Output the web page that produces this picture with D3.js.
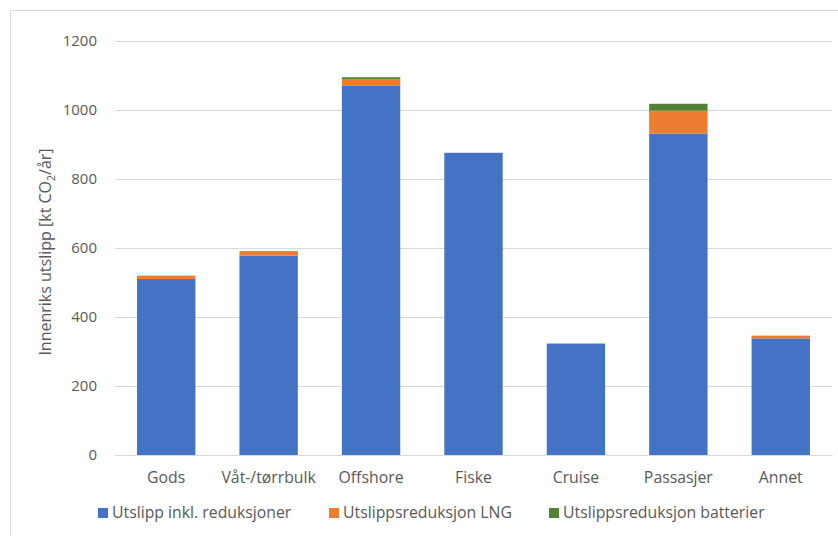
<!DOCTYPE html>
<html>
<head>
<meta charset="utf-8">
<script src="https://cdn.jsdelivr.net/npm/d3@7"></script>
<style>
  html, body { margin: 0; padding: 0; background: #fff; }
  svg { display: block; }
  text { font-family: "Open Sans", "Noto Sans", sans-serif; fill: #595959; }
</style>
</head>
<body>
<svg id="chart" width="838" height="536"></svg>
<script>
// Domestic shipping emissions per segment, kt CO2 per year
const categories = ["Gods", "Våt-/tørrbulk", "Offshore", "Fiske", "Cruise", "Passasjer", "Annet"];
const utslipp    = [510, 578, 1070, 876, 323, 932, 338];
const lngRed     = [10, 13, 20, 0, 0, 66, 8];
const batteriRed = [0, 0, 5, 0, 0, 20, 0];
const seriesNames = ["Utslipp inkl. reduksjoner", "Utslippsreduksjon LNG", "Utslippsreduksjon batterier"];
const seriesColors = ["#4472C4", "#ED7D31", "#548235"];
const yTicks = [0, 200, 400, 600, 800, 1000, 1200];

const rows = categories.map((c, i) => ({ cat: c, s0: utslipp[i], s1: lngRed[i], s2: batteriRed[i] }));
const keys = ["s0", "s1", "s2"];
const stacked = d3.stack().keys(keys)(rows);

const svg = d3.select("#chart");
const W = 838, H = 536;
const plot = { left: 115, right: 832, top: 41, bottom: 455 };

// chart frame
svg.append("rect")
  .attr("x", 10.5).attr("y", 10.5)
  .attr("width", W).attr("height", H)
  .attr("fill", "#fff").attr("stroke", "#d9d9d9").attr("stroke-width", 1);

const x = d3.scaleBand().domain(categories)
  .range([plot.left, plot.right]).paddingInner(0.43).paddingOuter(0.215);
const y = d3.scaleLinear().domain([0, 1200]).range([plot.bottom, plot.top]);

// horizontal gridlines + y labels
const yAxis = d3.axisLeft(y).tickValues(yTicks).tickSize(-(plot.right - plot.left)).tickPadding(18).tickFormat(d3.format("d"));
const gy = svg.append("g").attr("transform", `translate(${plot.left},0)`).call(yAxis);
gy.select(".domain").remove();
gy.selectAll(".tick line").attr("stroke", "#d9d9d9").attr("stroke-width", 1);
gy.selectAll(".tick text").style("font-size", "15px").attr("fill", "#595959");

// bars
svg.append("g").selectAll("g").data(stacked).join("g")
  .attr("fill", (d, i) => seriesColors[i])
  .selectAll("rect").data(d => d).join("rect")
  .attr("x", d => x(d.data.cat))
  .attr("width", x.bandwidth())
  .attr("y", d => y(d[1]))
  .attr("height", d => Math.max(0, y(d[0]) - y(d[1])));

// category axis
const xAxis = d3.axisBottom(x).tickSize(0).tickPadding(17);
const gx = svg.append("g").attr("transform", `translate(0,${plot.bottom})`).call(xAxis);
gx.select(".domain").attr("stroke", "#d9d9d9");
gx.selectAll(".tick text").style("font-size", "15.8px").attr("fill", "#595959");

// y-axis title
const title = svg.append("text")
  .attr("transform", `translate(51,${(plot.top + plot.bottom) / 2 + 4}) rotate(-90)`)
  .attr("text-anchor", "middle")
  .style("font-size", "16px");
title.append("tspan").text("Innenriks utslipp [kt CO");
title.append("tspan").text("2").style("font-size", "10.5px").attr("dy", 4);
title.append("tspan").text("/år]").attr("dy", -4);

// legend
const legendX = [98, 329, 549];
const lg = svg.append("g").selectAll("g").data(seriesNames).join("g")
  .attr("transform", (d, i) => `translate(${legendX[i]},518)`);
lg.append("rect").attr("x", 0).attr("y", -10).attr("width", 10).attr("height", 10)
  .attr("fill", (d, i) => seriesColors[i]);
lg.append("text").attr("x", 14).attr("y", 0).style("font-size", "15.8px").text(d => d);
</script>
</body>
</html>
